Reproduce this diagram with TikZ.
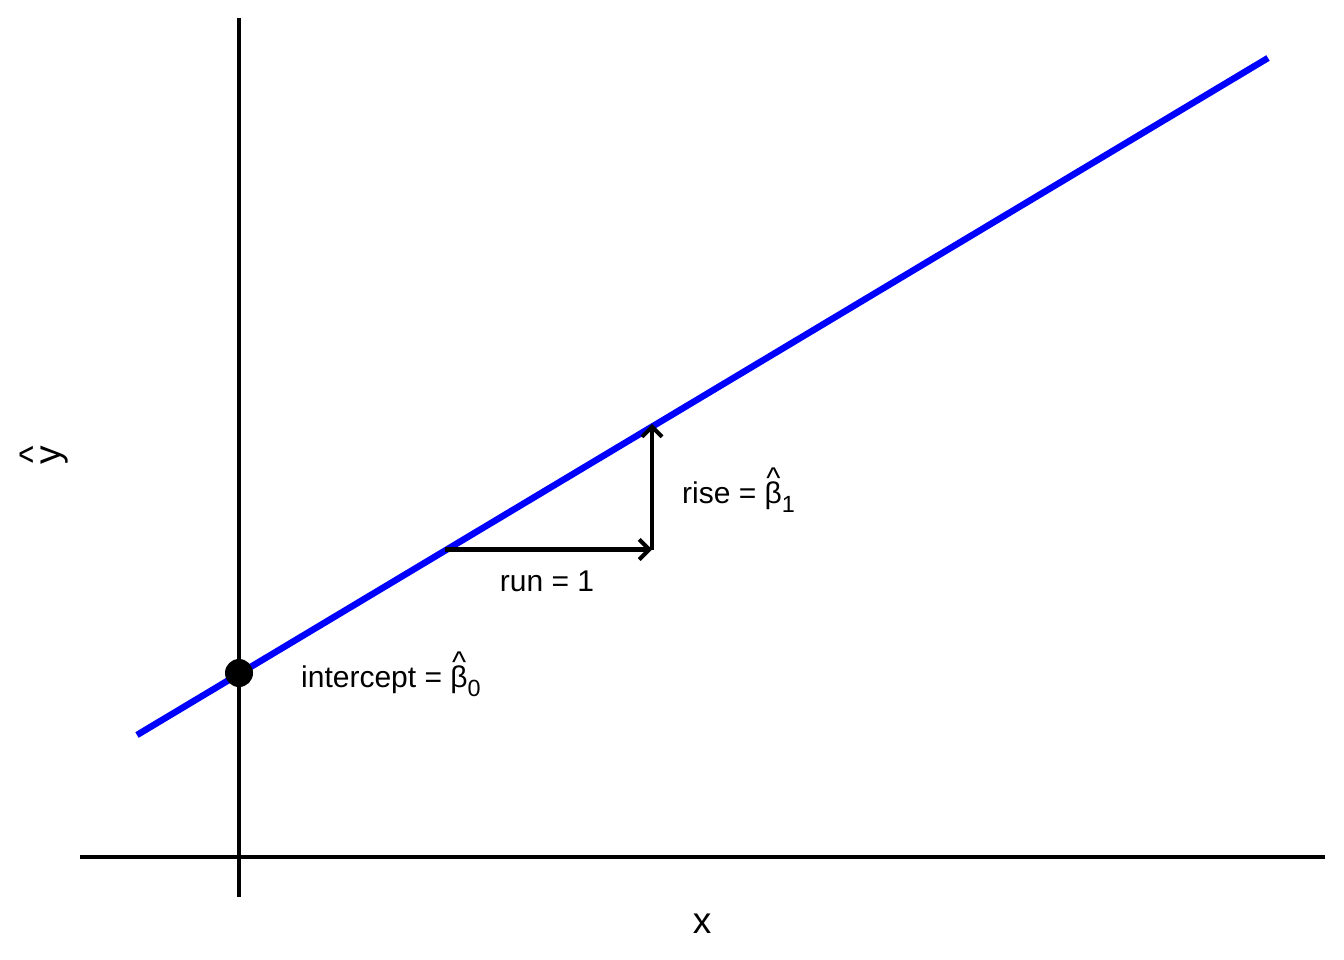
\documentclass[tikz,border=0pt]{standalone}
\usepackage{fontspec}
\setmainfont{Liberation Sans}
\usetikzlibrary{arrows.meta}
\newcommand{\hatted}[1]{\ooalign{\hfil\raisebox{0.5em}{\char`\^}\hfil\cr #1}}
\newcommand{\subsc}[1]{\raisebox{-0.3em}{\scalebox{0.78}{#1}}}
\begin{document}
\begin{tikzpicture}[x=1pt,y=-1pt,
  axisline/.style={line width=4pt},
  fitline/.style={line width=6.5pt,blue},
  arr/.style={line width=4.5pt,-{Straight Barb[length=10pt,width=20pt,line width=4pt]}},
  annot/.style={font=\fontsize{30}{34}\selectfont,inner sep=0pt},
  axlab/.style={font=\fontsize{37}{40}\selectfont,inner sep=0pt}]
\useasboundingbox (0,0) rectangle (1344,960);
\coordinate (ytop) at (239,18);
\coordinate (ybot) at (239,897);
\coordinate (xl) at (80,857);
\coordinate (xr) at (1325,857);
\draw[axisline] (ytop) -- (ybot);
\draw[axisline] (xl) -- (xr);
\coordinate (l0) at (137,735);
\coordinate (l1) at (1268,58);
\draw[fitline] (l0) -- (l1);
\node[circle,fill=black,minimum size=28pt,inner sep=0pt] (pt) at (239,673) {};
\coordinate (r0) at (445,549.5);
\coordinate (r1) at (652,549.5);
\coordinate (r2) at (652,424);
\draw[arr] (r0) -- (r1);
\draw[arr] (r1) -- (r2);
\node[annot,anchor=base west] (rise) at (682,503) {rise = \hatted{β}\subsc{1}};
\node[annot,anchor=base] (run) at (547,591) {run = 1};
\node[annot,anchor=base west] (icpt) at (301,687) {intercept = \hatted{β}\subsc{0}};
\node[axlab,anchor=base] (xlab) at (702,933) {x};
\node[axlab,anchor=base,rotate=90] (ylab) at (60,455) {\ooalign{\hfil\raisebox{0.38em}{\char`\^}\hfil\cr y}};
\end{tikzpicture}
\end{document}
